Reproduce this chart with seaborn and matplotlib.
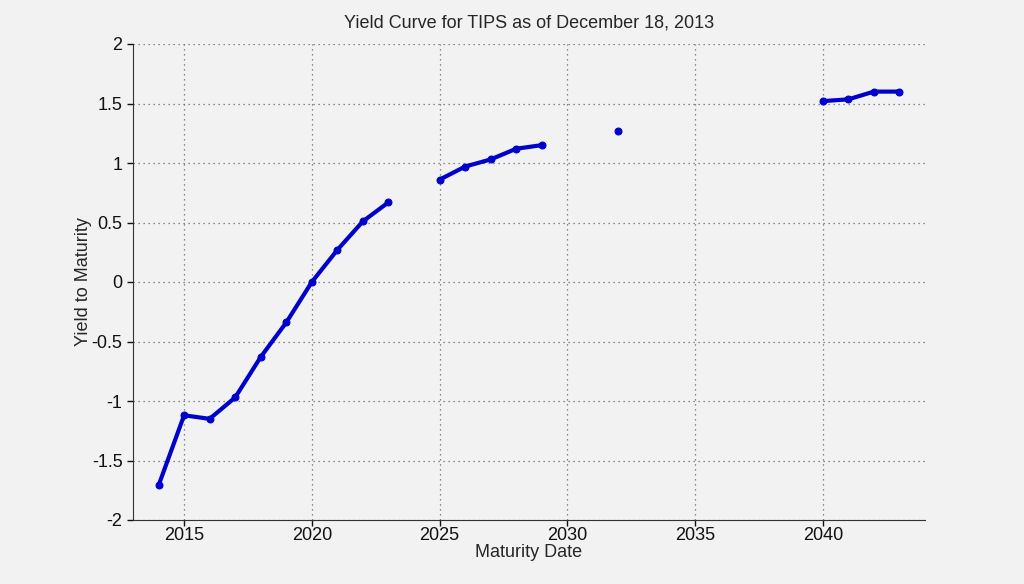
import numpy as np
import pandas as pd
import matplotlib
matplotlib.use("Agg")
import matplotlib.pyplot as plt
import seaborn as sns

# Data (gaps mark missing maturities)
years = [2014, 2015, 2016, 2017, 2018, 2019, 2020, 2021, 2022, 2023,
         2025, 2026, 2027, 2028, 2029,
         2032,
         2040, 2041, 2042, 2043]
yields = [-1.71, -1.12, -1.15, -0.97, -0.63, -0.34, 0.00, 0.27, 0.51, 0.67,
          0.86, 0.97, 1.03, 1.12, 1.15,
          1.27,
          1.52, 1.535, 1.60, 1.60]
segments = [0] * 10 + [1] * 5 + [2] + [3] * 4

xticks = [2015, 2020, 2025, 2030, 2035, 2040]
yticks = [-2, -1.5, -1, -0.5, 0, 0.5, 1, 1.5, 2]

df = pd.DataFrame({"year": years, "ytm": yields, "segment": segments})

bg = "#f2f2f2"
sns.set_style("ticks")
plt.rcParams["font.family"] = ["Liberation Sans", "DejaVu Sans"]
plt.rcParams["font.size"] = 13

fig = plt.figure(figsize=(10.24, 5.84), dpi=100, facecolor=bg)
ax = fig.add_axes([133 / 1024, 64 / 584, (925 - 133) / 1024, (520 - 44) / 584])
ax.set_facecolor(bg)

sns.lineplot(
    data=df, x="year", y="ytm", units="segment", estimator=None,
    color="#0000cc", linewidth=3, marker="o", markersize=5,
    markeredgecolor="#0000cc", ax=ax,
)

ax.set_xlim(2013, 2044)
ax.set_ylim(-2, 2)
ax.set_xticks(xticks)
ax.set_yticks(yticks)
ax.set_yticklabels([("%g" % t) for t in yticks])
ax.grid(True, linestyle=(0, (1, 3)), color="#666666", linewidth=0.9)
ax.tick_params(direction="out", length=4, width=1, labelsize=13, colors="#111111")
ax.tick_params(axis="x", pad=1)

for s in ["top", "right"]:
    ax.spines[s].set_visible(False)
for s in ["left", "bottom"]:
    ax.spines[s].set_color("#333333")

ax.set_xlabel("Maturity Date", fontsize=13, labelpad=0)
ax.set_ylabel("Yield to Maturity", fontsize=13, labelpad=0)
ax.set_title("Yield Curve for TIPS as of December 18, 2013", fontsize=13, pad=12)

fig.savefig("out.png", dpi=100, facecolor=bg)
